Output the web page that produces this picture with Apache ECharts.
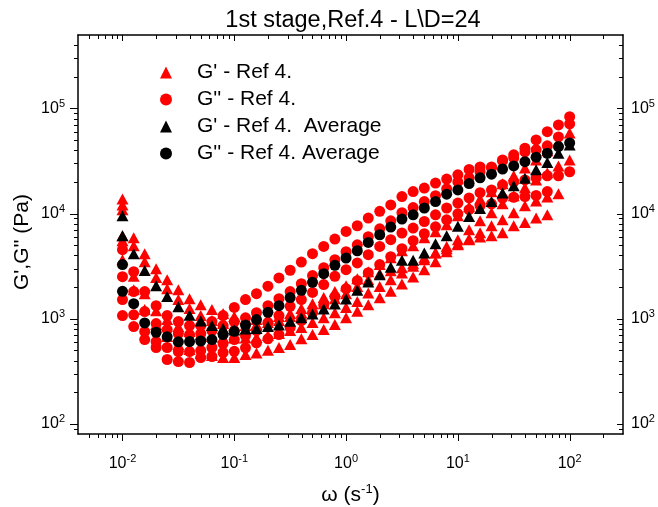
<!DOCTYPE html>
<html>
<head>
<meta charset="utf-8">
<script src="https://cdn.jsdelivr.net/npm/echarts@6/dist/echarts.min.js"></script>
<style>
html,body{margin:0;padding:0;background:#fff;}
#chart{width:658px;height:507px;}
</style>
</head>
<body>
<div id="chart"></div>
<script>
// ---- data ----
const omega = [0.01, 0.0126, 0.0158, 0.02, 0.0251, 0.0316, 0.0398, 0.0501, 0.0631, 0.0794,
  0.1, 0.126, 0.158, 0.2, 0.251, 0.316, 0.398, 0.501, 0.631, 0.794,
  1, 1.26, 1.58, 2, 2.51, 3.16, 3.98, 5.01, 6.31, 7.94,
  10, 12.6, 15.8, 20, 25.1, 31.6, 39.8, 50.1, 63.1, 79.4, 100];

// G' individual runs (red triangles)
const gpRunA = [13800, 5890, 4150, 2990, 2350, 1890, 1550, 1360, 1220, 1120, 1050, 1000, 980, 1000, 1050, 1120, 1250, 1390, 1590, 1810, 2060, 2400, 2800, 3270, 3800, 4430, 4950, 5890, 6720, 7830, 9530, 11600, 13800, 16100, 19200, 22900, 27200, 32400, 39500, 48100, 58500];
const gpRunB = [12100, 4950, 3490, 2460, 1930, 1520, 1250, 1070, 959, 898, 860, 860, 879, 918, 959, 1050, 1140, 1250, 1390, 1550, 1730, 2020, 2350, 2680, 2860, 3060, 3340, 3800, 4240, 4630, 5050, 5640, 6570, 7660, 8730, 10200, 11900, 13200, 14400, 15400, null];
const gpRunC = [6150, 2530, 1730, 1190, 980, 841, 754, 706, 676, 661, 654, 654, 661, 691, 722, 771, 823, 918, 1020, 1140, 1280, 1460, 1760, 2030, 2350, 2720, 3150, 3640, 4220, 4870, 5640, 7020, 8540, 10200, 12400, 14800, 17600, 20900, 24400, 28400, 32400];
const gpRunD = [3640, 1890, 1220, 879, 676, 568, 509, 466, 446, 427, 427, 456, 473, 501, 532, 568, 643, 706, 788, 879, 1020, 1180, 1360, 1580, 1820, 2140, 2490, 2930, 3490, 4340, 5170, 5760, 5980, 6150, 6570, 7660, 8230, 9070, 9740, null, null];
const gpRepeatAtStart = [10900, 5520];

// G'' individual runs (red circles)
const gppRun1 = [4530, 2800, 1810, 1330, 1070, 938, 860, 860, 938, 1070, 1280, 1520, 1730, 2040, 2440, 2890, 3460, 4150, 4870, 5720, 6760, 7660, 9070, 10500, 12100, 14500, 16200, 17500, 19500, 21300, 23400, 26300, 27800, 27800, 31700, 36200, 41900, 50200, 60200, 69700, 83600];
const gppRun2 = [2510, 1810, 1170, 898, 788, 722, 706, 722, 771, 860, 938, 1020, 1140, 1330, 1550, 1810, 2150, 2570, 3060, 3640, 4340, 5050, 6020, 7170, 8540, 10200, 11400, 13000, 14800, 17200, 20000, 21900, 25000, 27200, 32400, 33900, 38600, 40400, 44100, 53600, 71300];
const gppRun3 = [1520, 1090, 754, 606, 532, 487, 487, 498, 532, 580, 633, 691, 771, 918, 1070, 1310, 1520, 1780, 2110, 2530, 2930, 3390, 4060, 4870, 5640, 6530, 7280, 8410, 9740, 11300, 12600, 14100, 15800, 16800, 18800, 20000, 20900, 21900, 22900, 22900, 25000];
const gppRun4 = [1070, 841, 633, 532, 409, 391, 383, 427, 437, 477, 490, 528, 589, 643, 706, 823, 959, 1140, 1360, 1620, 1930, 2300, 2740, 3270, 3890, 4630, 5520, 6430, 7490, 8730, 9960, 10900, 11900, 12400, 14000, 14300, 14500, 14900, 16200, null, null];

// Averages (black)
const gpAvg = [9530, 4150, 2880, 2060, 1630, 1300, 1080, 949, 860, 805, 779, 800, 809, 841, 873, 945, 1020, 1110, 1240, 1380, 1540, 1860, 2240, 2620, 3080, 3590, 3590, 4220, 5170, 6160, 7580, 9390, 11200, 13000, 15700, 18400, 21700, 26100, 30600, 37500, 45000];
const gpAvgRepeatAtStart = [6150];
const gppAvg = [3270, 1390, 912, 743, 672, 602, 606, 613, 633, 706, 759, 869, 981, 1150, 1330, 1590, 1860, 2220, 2680, 3220, 3780, 4430, 5320, 6290, 7440, 8870, 9740, 11300, 13000, 15300, 16800, 19300, 21900, 23700, 26500, 28400, 31200, 34400, 37500, 43400, 47000];
const gppAvgRepeatAtStart = [1820];

// axes
const xMin = 0.004, xMax = 300;
const yMin = 80, yMax = 500000;
const xMajorTicks = [0.01, 0.1, 1, 10, 100];
const xMinorTicks = [0.005, 0.006, 0.007, 0.008, 0.009,
  0.02, 0.03, 0.04, 0.05, 0.06, 0.07, 0.08, 0.09,
  0.2, 0.3, 0.4, 0.5, 0.6, 0.7, 0.8, 0.9,
  2, 3, 4, 5, 6, 7, 8, 9,
  20, 30, 40, 50, 60, 70, 80, 90, 200];
const yMajorTicks = [100, 1000, 10000, 100000];
const yMinorTicks = [90, 200, 300, 400, 500, 600, 700, 800, 900,
  2000, 3000, 4000, 5000, 6000, 7000, 8000, 9000,
  20000, 30000, 40000, 50000, 60000, 70000, 80000, 90000,
  200000, 300000, 400000];

const seriesNames = ["G' - Ref 4.", "G'' - Ref 4.", "G' - Ref 4.  Average", "G'' - Ref 4. Average"];

// ---- build ----
function pairs(runs) {
  const out = [];
  runs.forEach(r => r.forEach((v, i) => { if (v != null) out.push([omega[i], v]); }));
  return out;
}
function startRepeats(vals) { return vals.map(v => [omega[0], v]); }

const redGp = pairs([gpRunA, gpRunB, gpRunC, gpRunD]).concat(startRepeats(gpRepeatAtStart));
const redGpp = pairs([gppRun1, gppRun2, gppRun3, gppRun4]);
const blackGp = pairs([gpAvg]).concat(startRepeats(gpAvgRepeatAtStart));
const blackGpp = pairs([gppAvg]).concat(startRepeats(gppAvgRepeatAtStart));

const FONT = 'Arial, "Liberation Sans", sans-serif';

function powLabel(value) {
  const l = Math.log10(value);
  const e = Math.round(l);
  if (Math.abs(l - e) > 1e-6) return '';
  return '{b|10}{s|' + e + '}';
}
const labelRich = {
  b: { fontSize: 16, fontFamily: FONT, color: '#000' },
  s: { fontSize: 11, fontFamily: FONT, color: '#000', padding: [0, 0, 10, 0] }
};

function xTickItem(params, api) {
  const v = api.value(0);
  const major = api.value(2) === 1;
  const pb = api.coord([v, yMin]);
  const pt = api.coord([v, yMax]);
  const x = Math.round(pb[0]) + 0.5;
  const st = { stroke: '#000', lineWidth: 1 };
  return { type: 'group', children: [
    { type: 'line', shape: { x1: x, y1: pb[1], x2: x, y2: pb[1] + (major ? 7 : 4) }, style: st },
    { type: 'line', shape: { x1: x, y1: pt[1], x2: x, y2: pt[1] + (major ? 6 : 4) }, style: st }
  ]};
}
function yTickItem(params, api) {
  const v = api.value(1);
  const major = api.value(2) === 1;
  const pl = api.coord([xMin, v]);
  const pr = api.coord([xMax, v]);
  const y = Math.round(pl[1]) + 0.5;
  const st = { stroke: '#000', lineWidth: 1 };
  return { type: 'group', children: [
    { type: 'line', shape: { x1: pl[0], y1: y, x2: pl[0] - (major ? 8 : 4), y2: y }, style: st },
    { type: 'line', shape: { x1: pr[0], y1: y, x2: pr[0] - (major ? 6 : 4), y2: y }, style: st }
  ]};
}

const xTickData = xMajorTicks.map(v => [v, yMin, 1]).concat(xMinorTicks.map(v => [v, yMin, 0]));
const yTickData = yMajorTicks.map(v => [xMin, v, 1]).concat(yMinorTicks.map(v => [xMin, v, 0]));

const axisLine = { show: true, lineStyle: { color: '#000', width: 1.5 } };

const chart = echarts.init(document.getElementById('chart'), null, { renderer: 'canvas' });
chart.setOption({
  animation: false,
  backgroundColor: '#fff',
  title: {
    text: '1st stage,Ref.4 - L\\D=24',
    left: 348, top: 4, textAlign: 'center',
    textStyle: { fontFamily: FONT, fontSize: 23.5, fontWeight: 'normal', color: '#000' }
  },
  legend: {
    data: seriesNames,
    orient: 'vertical',
    left: 160, top: 62,
    itemWidth: 12, itemHeight: 12, itemGap: 6,
    padding: 0,
    textStyle: { fontFamily: FONT, fontSize: 21, color: '#000', lineHeight: 20.5, padding: [0, 0, 0, 20] }
  },
  grid: { left: 78, top: 35, width: 545, height: 399, containLabel: false, outerBoundsMode: 'none' },
  xAxis: [
    { type: 'log', min: xMin, max: xMax, position: 'bottom',
      axisLine: axisLine, axisTick: { show: false }, splitLine: { show: false },
      axisLabel: { formatter: powLabel, rich: labelRich, margin: 19, showMinLabel: false, showMaxLabel: false, color: '#000' },
      name: '{a|ω (s}{s|-1}{a|)}', nameLocation: 'middle', nameGap: 49,
      nameTextStyle: { rich: { a: { fontSize: 21, fontFamily: FONT, color: '#000' }, s: { fontSize: 13, fontFamily: FONT, color: '#000', padding: [0, 0, 12, 0] } } }
    },
    { type: 'log', min: xMin, max: xMax, position: 'top',
      axisLine: axisLine, axisTick: { show: false }, axisLabel: { show: false }, splitLine: { show: false } }
  ],
  yAxis: [
    { type: 'log', min: yMin, max: yMax, position: 'left',
      axisLine: axisLine, axisTick: { show: false }, splitLine: { show: false },
      axisLabel: { formatter: powLabel, rich: labelRich, margin: 13, showMinLabel: false, showMaxLabel: false, color: '#000' }
    },
    { type: 'log', min: yMin, max: yMax, position: 'right',
      axisLine: axisLine, axisTick: { show: false }, splitLine: { show: false },
      axisLabel: { formatter: powLabel, rich: labelRich, margin: 8, showMinLabel: false, showMaxLabel: false, color: '#000' }
    }
  ],
  graphic: [{
    type: 'text',
    x: 22, y: 242,
    rotation: Math.PI / 2,
    style: { text: "G',G'' (Pa)", font: '21px ' + FONT, fill: '#000', align: 'center', verticalAlign: 'middle' }
  }],
  series: [
    { name: seriesNames[0], type: 'scatter', symbol: 'triangle', symbolSize: [12, 11],
      itemStyle: { color: '#ff0000', opacity: 1 }, data: redGp, z: 2 },
    { name: seriesNames[1], type: 'scatter', symbol: 'circle', symbolSize: 11,
      itemStyle: { color: '#ff0000', opacity: 1 }, data: redGpp, z: 2 },
    { name: seriesNames[2], type: 'scatter', symbol: 'triangle', symbolSize: [12, 11],
      itemStyle: { color: '#000', opacity: 1 }, data: blackGp, z: 3 },
    { name: seriesNames[3], type: 'scatter', symbol: 'circle', symbolSize: 11,
      itemStyle: { color: '#000', opacity: 1 }, data: blackGpp, z: 3 },
    { type: 'custom', name: 'xticks', silent: true, clip: false, renderItem: xTickItem,
      encode: { x: 0, y: 1 }, data: xTickData, z: 5 },
    { type: 'custom', name: 'yticks', silent: true, clip: false, renderItem: yTickItem,
      encode: { x: 0, y: 1 }, data: yTickData, z: 5 }
  ]
});
</script>
</body>
</html>
